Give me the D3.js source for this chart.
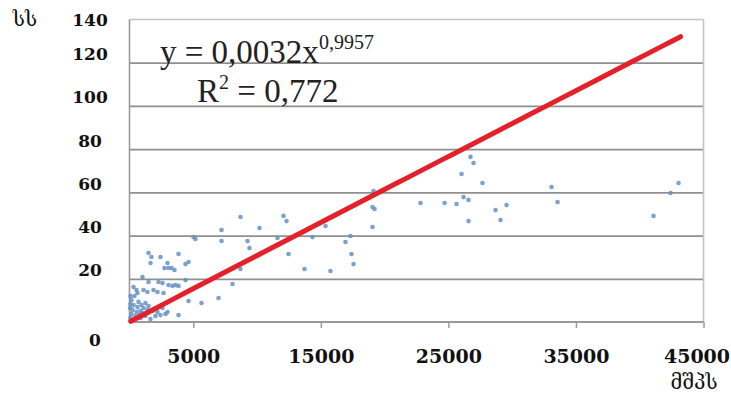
<!DOCTYPE html>
<html>
<head>
<meta charset="utf-8">
<script src="https://cdn.jsdelivr.net/npm/d3@7/dist/d3.min.js"></script>
<style>
  body { margin: 0; background: #fff; }
  svg { display: block; }
</style>
</head>
<body>
<svg id="chart" width="731" height="396"></svg>
<script>
// GDP per capita (x) and indicator value (y) for each observation
const gdpValues = [
  78, 157, 235, 314, 157, 392, 549, 706, 862, 941, 1098, 1254, 1411, 1490, 1803, 2195,
  470, 862, 1254, 1646, 2430, 2822, 2979, 2587, 3842, 314, 1098, 1411, 1882, 2195, 2666,
  1019, 1490, 2274, 2587, 3058, 3371, 3606, 3842, 4390, 1646, 2979, 2744, 3058, 3293, 3528,
  4390, 4626, 1490, 1725, 2430, 3842, 5018, 5174, 7213, 7213, 4626, 5645, 6978, 8075, 8702,
  8702, 10192, 9251, 9408, 11603, 12074, 12310, 12466, 13720, 15758, 15366, 14347, 16934,
  17326, 17405, 17562, 19130, 19051, 19208, 19051, 22814, 24696, 25637, 26029, 26734, 26970,
  27675, 26186, 26578, 26578, 28694, 29086, 29557, 33085, 33555, 41082, 42414, 43042,
  40, 78, 627, 784, 1019, 2038, 627, 78, 549
];
const indicatorValues = [
  1.9, 3.7, 5.6, 7.9, 10.2, 12.0, 4.6, 9.3, 5.1, 7.9, 6.5, 8.8, 5.6, 7.4, 5.1, 4.6,
  2.8, 1.9, 2.8, 1.4, 3.2, 3.7, 4.6, 6.5, 3.2, 16.2, 14.8, 13.9, 14.8, 13.9, 13.4,
  20.8, 18.5, 18.5, 18.0, 17.1, 16.7, 17.1, 16.7, 19.4, 27.3, 27.3, 25.0, 25.0, 25.0, 24.1,
  26.8, 27.8, 31.9, 30.1, 30.1, 31.5, 39.3, 38.4, 42.6, 37.5, 9.7, 8.8, 11.1, 17.6, 24.5,
  48.6, 43.5, 37.5, 34.2, 38.9, 49.1, 46.7, 31.5, 24.5, 23.6, 44.4, 39.3, 37.0,
  39.8, 31.5, 26.8, 60.6, 53.2, 52.3, 44.0, 55.1, 55.1, 54.6, 68.5, 76.4, 73.6,
  64.3, 57.8, 56.5, 46.7, 51.8, 47.2, 54.1, 62.5, 55.5, 49.1, 59.7, 64.3,
  6.5, 8.3, 6.9, 3.2, 4.2, 2.8, 13.4, 12.0, 14.8
];

const xTickValues = [5000, 15000, 25000, 35000, 45000];
const yTickValues = [0, 20, 40, 60, 80, 100, 120, 140];
const xDomain = [0, 45000];
const yDomain = [0, 140];

// Power trendline y = a * x^b and its fit quality
const trendA = 0.0032;
const trendB = 0.9957;
const trendSpan = [100, 43200];
const eqMain = "y = 0,0032x";
const eqPower = "0,9957";
const r2Text = "= 0,772";

const yTitle = "სს";
const xTitle = "მშპს";

const svg = d3.select("#chart");
const plotLeft = 129.5, plotRight = 703.5, plotTop = 19.5, plotBottom = 322;

const x = d3.scaleLinear().domain(xDomain).range([plotLeft, plotRight]);
const y = d3.scaleLinear().domain(yDomain).range([plotBottom, plotTop]);

const tickFont = "'DejaVu Serif', serif";

// horizontal gridlines
const grid = svg.append("g")
  .attr("transform", `translate(${plotLeft},0)`)
  .call(d3.axisLeft(y).tickValues(yTickValues.filter(v => v > yDomain[0] && v < yDomain[1]))
    .tickSize(-(plotRight - plotLeft)).tickFormat(""));
grid.select(".domain").remove();
grid.selectAll("line").attr("stroke", "#8f8f8f").attr("stroke-width", 1.8);

// frame: light top and right edges, darker left axis line
svg.append("line").attr("x1", plotLeft).attr("x2", plotRight).attr("y1", y(yDomain[1])).attr("y2", y(yDomain[1]))
  .attr("stroke", "#c4c4c4").attr("stroke-width", 1.6);
svg.append("line").attr("x1", plotRight).attr("x2", plotRight).attr("y1", y(yDomain[1])).attr("y2", plotBottom)
  .attr("stroke", "#c4c4c4").attr("stroke-width", 1.6);
svg.append("line").attr("x1", plotLeft).attr("x2", plotLeft).attr("y1", y(yDomain[1])).attr("y2", plotBottom)
  .attr("stroke", "#9a9a9a").attr("stroke-width", 1.6);

// x axis
const xAxis = svg.append("g")
  .attr("transform", `translate(0,${plotBottom})`)
  .call(d3.axisBottom(x).tickValues(xTickValues).tickSize(6).tickFormat(d3.format("d")));
xAxis.select(".domain").attr("stroke", "#9a9a9a").attr("stroke-width", 1.8)
  .attr("d", `M${plotLeft},0H${plotRight}`);
xAxis.selectAll(".tick line").attr("stroke", "#9a9a9a").attr("stroke-width", 1.5);
xAxis.selectAll(".tick text")
  .attr("y", 0).attr("dy", "41px")
  .attr("font-family", tickFont).attr("font-weight", "bold").attr("font-size", 19)
  .attr("fill", "#111")
  .attr("dx", d => d === xDomain[1] ? -7 : 0);

// y axis labels, set to the left of the plot
const yAxis = svg.append("g")
  .attr("transform", `translate(${plotLeft},0)`)
  .call(d3.axisLeft(y).tickValues(yTickValues).tickSize(0).tickFormat(d3.format("d")));
yAxis.select(".domain").remove();
yAxis.selectAll(".tick text")
  .attr("x", d => (d === yDomain[0] ? 95 : 90) - plotLeft).attr("text-anchor", "middle")
  .attr("dy", d => d === yDomain[0] ? "23px" : d === yDomain[1] ? "6px" : "-3px")
  .attr("font-family", tickFont).attr("font-weight", "bold").attr("font-size", 17)
  .attr("fill", "#111");

// scatter points
const pts = gdpValues.map((g, i) => [g, indicatorValues[i]]);
svg.append("g").selectAll("circle").data(pts).join("circle")
  .attr("cx", d => x(d[0])).attr("cy", d => y(d[1]))
  .attr("r", 2.3)
  .attr("fill", "#6590c6").attr("fill-opacity", 0.85);

// power trendline
const trendPts = d3.range(0, 61).map(i => {
  const gx = trendSpan[0] + (trendSpan[1] - trendSpan[0]) * i / 60;
  return [gx, trendA * Math.pow(gx, trendB)];
});
svg.append("path")
  .datum(trendPts)
  .attr("d", d3.line().x(d => x(d[0])).y(d => y(d[1])))
  .attr("fill", "none").attr("stroke", "#e4202a").attr("stroke-width", 5)
  .attr("stroke-linecap", "round");

// trendline equation
const eqFont = "'Liberation Serif', 'Times New Roman', serif";
const eq = svg.append("text").attr("x", 160).attr("y", 63)
  .attr("font-family", eqFont).attr("font-size", 33).attr("fill", "#222");
eq.append("tspan").text(eqMain);
eq.append("tspan").attr("dy", -14).attr("font-size", 20).text(eqPower);

const r2 = svg.append("text").attr("x", 197).attr("y", 102)
  .attr("font-family", eqFont).attr("font-size", 33).attr("fill", "#222");
r2.append("tspan").text("R");
r2.append("tspan").attr("dy", -13).attr("font-size", 20).text("2");
r2.append("tspan").attr("dy", 13).text(" " + r2Text);

// axis titles
const titleFont = "'DejaVu Serif', 'DejaVu Sans', serif";
svg.append("text").attr("x", 25).attr("y", 26).attr("text-anchor", "middle")
  .attr("font-family", titleFont).attr("font-size", 20)
  .attr("fill", "#111").text(yTitle);
svg.append("text").attr("x", 694).attr("y", 389).attr("text-anchor", "middle")
  .attr("font-family", titleFont).attr("font-size", 20)
  .attr("fill", "#111").text(xTitle);
</script>
</body>
</html>
